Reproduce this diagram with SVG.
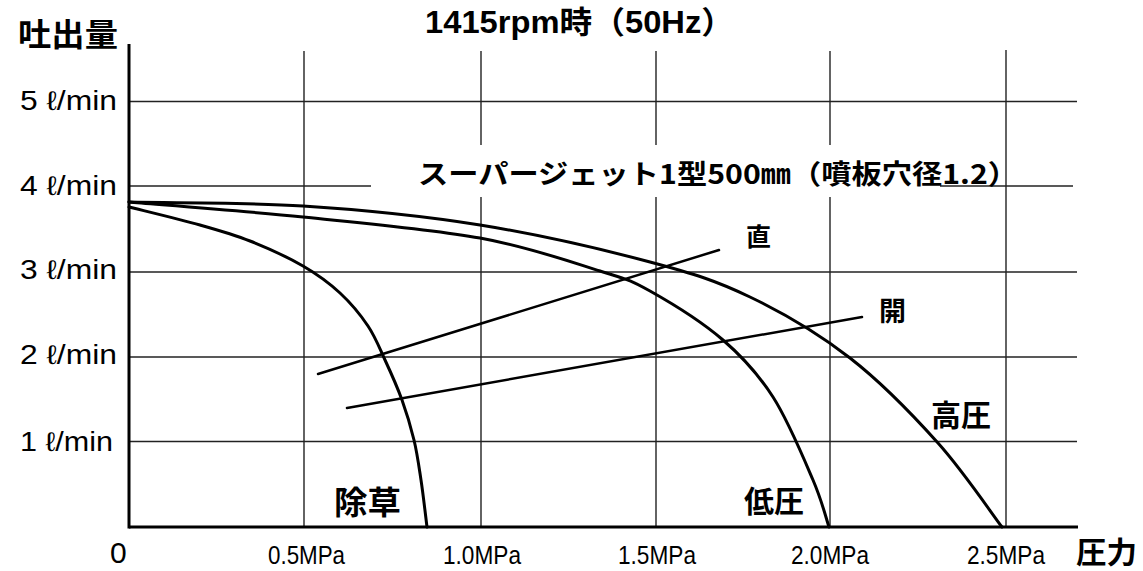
<svg xmlns="http://www.w3.org/2000/svg" width="1143" height="571" viewBox="0 0 1143 571">
<style>
.grid{stroke:#222;stroke-width:1.4;fill:none}
.axis{stroke:#000;stroke-width:3;fill:none}
.curve{stroke:#000;stroke-width:3;fill:none;stroke-linecap:round;stroke-linejoin:round}
.ref{stroke:#000;stroke-width:2.5;fill:none;stroke-linecap:round}
.t{font-family:"Noto Sans CJK JP","Liberation Sans",sans-serif;fill:#000}
.b{font-weight:bold}
.num{font-family:"Liberation Sans","Noto Sans CJK JP",sans-serif;fill:#000}
</style>
<rect width="1143" height="571" fill="#fff"/>
<g id="grid">
<line class="grid" x1="129" y1="101.5" x2="1077" y2="101.5"/>
<line class="grid" x1="129" y1="186" x2="1073" y2="186"/>
<line class="grid" x1="129" y1="272" x2="1077" y2="272"/>
<line class="grid" x1="129" y1="357" x2="1077" y2="357"/>
<line class="grid" x1="129" y1="441.5" x2="1077" y2="441.5"/>
<line class="grid" x1="304" y1="51" x2="304" y2="527"/>
<line class="grid" x1="481" y1="51" x2="481" y2="527"/>
<line class="grid" x1="656" y1="51" x2="656" y2="527"/>
<line class="grid" x1="830" y1="51" x2="830" y2="527"/>
<line class="grid" x1="1006" y1="50" x2="1006" y2="527"/>
<rect x="371" y="145" width="569" height="52" fill="#fff"/>
</g>
<g id="axes">
<line class="axis" x1="129" y1="44" x2="129" y2="528.5"/>
<line class="axis" x1="129" y1="527" x2="1078" y2="527"/>
</g>
<g id="curves">
<path id="koatsu" class="curve" d="M129,202 C158,202.7 244.5,202.2 303,206 C361.5,209.8 422.2,215.7 480,225 C537.8,234.3 605,250 650,262 C695,274 716.7,281 750,297 C783.3,313 818.7,333.7 850,358 C881.3,382.3 912.7,414.8 938,443 C963.3,471.2 991.3,513 1002,527"/>
<path id="teiatsu" class="curve" d="M129,202 C158,204.5 244.5,211 303,217 C361.5,223 430.5,229 480,238 C529.5,247 571.7,262.2 600,271 C628.3,279.8 629.5,279.5 650,291 C670.5,302.5 702.5,322.3 723,340 C743.5,357.7 758,373.7 773,397 C788,420.3 803.7,458.3 813,480 C822.3,501.7 826.3,519.2 829,527"/>
<path id="josou" class="curve" d="M129,207 C140.8,210 179.8,219.3 200,225 C220.2,230.7 232.8,234.2 250,241 C267.2,247.8 288,257.3 303,266 C318,274.7 329.2,283 340,293 C350.8,303 360.5,314.8 368,326 C375.5,337.2 379.3,347.7 385,360 C390.7,372.3 397.2,386.7 402,400 C406.8,413.3 410.8,426.7 414,440 C417.2,453.3 418.8,465.5 421,480 C423.2,494.5 426,519.2 427,527"/>
</g>
<g id="connectors">
<line class="ref" x1="318" y1="374" x2="719" y2="250"/>
<line class="ref" x1="347" y1="408" x2="862" y2="317"/>
</g>
<g id="labels">
<text class="t b" x="18" y="46" font-size="32" textLength="100" lengthAdjust="spacingAndGlyphs">吐出量</text>
<text class="num b" x="425" y="33" font-size="31" textLength="309" lengthAdjust="spacingAndGlyphs">1415rpm時（50Hz）</text>
<text class="t b" x="418" y="184" font-size="27" textLength="600" lengthAdjust="spacingAndGlyphs">スーパージェット1型500㎜（噴板穴径1.2）</text>
<text class="num" x="20" y="110" font-size="27" textLength="97" lengthAdjust="spacingAndGlyphs">5 ℓ/min</text>
<text class="num" x="20" y="195" font-size="27" textLength="97" lengthAdjust="spacingAndGlyphs">4 ℓ/min</text>
<text class="num" x="20" y="279" font-size="27" textLength="97" lengthAdjust="spacingAndGlyphs">3 ℓ/min</text>
<text class="num" x="20" y="364" font-size="27" textLength="97" lengthAdjust="spacingAndGlyphs">2 ℓ/min</text>
<text class="num" x="20" y="451" font-size="27" textLength="93" lengthAdjust="spacingAndGlyphs">1 ℓ/min</text>
<text class="num" x="110" y="563" font-size="30">0</text>
<text class="num" x="268" y="564" font-size="26" textLength="77" lengthAdjust="spacingAndGlyphs">0.5MPa</text>
<text class="num" x="443" y="564" font-size="26" textLength="78" lengthAdjust="spacingAndGlyphs">1.0MPa</text>
<text class="num" x="618" y="564" font-size="26" textLength="78" lengthAdjust="spacingAndGlyphs">1.5MPa</text>
<text class="num" x="791" y="564" font-size="26" textLength="78" lengthAdjust="spacingAndGlyphs">2.0MPa</text>
<text class="num" x="967" y="564" font-size="26" textLength="78" lengthAdjust="spacingAndGlyphs">2.5MPa</text>
<text class="t b" x="1076" y="563" font-size="30" textLength="61" lengthAdjust="spacingAndGlyphs">圧力</text>
<text class="t b" x="746" y="246" font-size="25">直</text>
<text class="t b" x="879" y="321" font-size="27">開</text>
<text class="t b" x="931" y="426" font-size="30">高圧</text>
<text class="t b" x="744" y="512" font-size="30">低圧</text>
<text class="t b" x="334" y="514" font-size="32" textLength="67" lengthAdjust="spacingAndGlyphs">除草</text>
</g>
</svg>
